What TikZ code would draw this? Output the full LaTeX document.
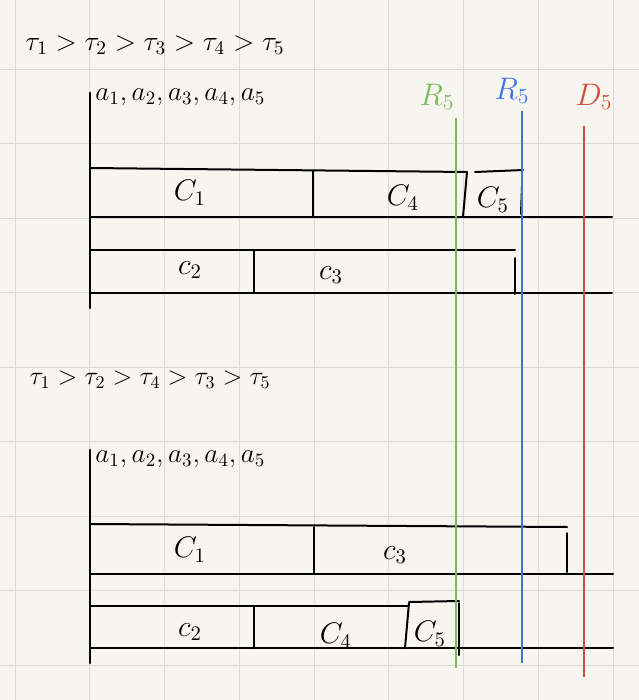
\documentclass[tikz,border=0pt]{standalone}
\definecolor{paper}{HTML}{F7F5F0}
\definecolor{gridc}{HTML}{DCDAD5}
\definecolor{rgreen}{HTML}{7DB85C}
\definecolor{rblue}{HTML}{3C74E2}
\definecolor{rred}{HTML}{CF4E3C}
\begin{document}
\begin{tikzpicture}[x=0.75pt,y=-0.75pt,
  ink/.style={line width=1.5pt, black, line cap=round},
  axisline/.style={line width=2.2pt, black, line cap=round},
  markline/.style={line width=1.8pt},
  title/.style={font=\Large, inner sep=0pt, scale=1.45, transform shape},
  alist/.style={font=\Large, inner sep=0pt, scale=1.42, transform shape},
  clabel/.style={font=\Large, inner sep=0pt, scale=1.55, transform shape},
  rlabel/.style={font=\LARGE, inner sep=0pt, scale=1.35, transform shape}]
% paper and grid
\fill[paper] (0,0) rectangle (639,700);
\useasboundingbox (0,0) rectangle (639,700);
\foreach \k in {0,...,8} {
  \draw[gridc, line width=0.7pt] ({15+74.75*\k},0) -- ({15+74.75*\k},700);
  \draw[gridc, line width=0.7pt] (0,{69+74.5*\k}) -- (639,{69+74.5*\k});
}
% ---------- top section ----------
\node[title] (t1) at (155,45) {$\tau_1 > \tau_2 > \tau_3 > \tau_4 > \tau_5$};
\node[alist, anchor=west] (a1) at (95,97) {$a_1, a_2, a_3, a_4, a_5$};
\draw[axisline] (90,93) -- (90,308);
% row 1
\draw[ink] (90,168) -- (467,172);
\draw[ink] (90,217) -- (612,217);
\draw[ink] (313,171) -- (313,217);
\draw[ink] (467,172) -- (463,217);
\draw[ink] (475,172) -- (523,170);
\draw[ink] (522,186) -- (521,214);
\node[clabel] (c1a) at (190,193) {$C_1$};
\node[clabel] (c4a) at (403,198) {$C_4$};
\node[clabel] (c5a) at (493,200) {$C_5$};
% row 2
\draw[ink] (90,250) -- (515,250);
\draw[ink] (90,293) -- (612,293);
\draw[ink] (254,250) -- (254,293);
\draw[ink] (515,258) -- (515,294);
\node[clabel] (c2a) at (190,270) {$c_2$};
\node[clabel] (c3a) at (331,275) {$c_3$};
% ---------- bottom section ----------
\node[title, scale=0.93] (t2) at (150,380) {$\tau_1 > \tau_2 > \tau_4 > \tau_3 > \tau_5$};
\node[alist, anchor=west] (a2) at (95,459) {$a_1, a_2, a_3, a_4, a_5$};
\draw[axisline] (90,450) -- (90,663);
% row 1
\draw[ink] (90,524) -- (567,527);
\draw[ink] (90,574) -- (613,574);
\draw[ink] (314,527) -- (314,574);
\draw[ink] (567,533) -- (567,572);
\node[clabel] (c1b) at (190,550) {$C_1$};
\node[clabel] (c3b) at (395,555) {$c_3$};
% row 2
\draw[ink] (90,606) -- (408,606);
\draw[ink] (90,648) -- (613,648);
\draw[ink] (254,606) -- (254,648);
\draw[ink] (409,603) -- (405,648);
\draw[ink] (409,602) -- (459,601);
\draw[ink] (459,603) -- (459,655);
\node[clabel] (c2b) at (190,632) {$c_2$};
\node[clabel] (c4b) at (336,636) {$C_4$};
\node[clabel] (c5b) at (430,634) {$C_5$};
% ---------- marker lines ----------
\draw[markline, rgreen] (456,118) -- (456,668);
\draw[markline, rblue] (522,111) -- (522,663);
\draw[markline, rred] (584,126) -- (584,677);
\node[rlabel, text=rgreen] (rg) at (437,97) {$R_5$};
\node[rlabel, text=rblue] (rb) at (512,91) {$R_5$};
\node[rlabel, text=rred] (rd) at (594,97) {$D_5$};
\end{tikzpicture}
\end{document}
